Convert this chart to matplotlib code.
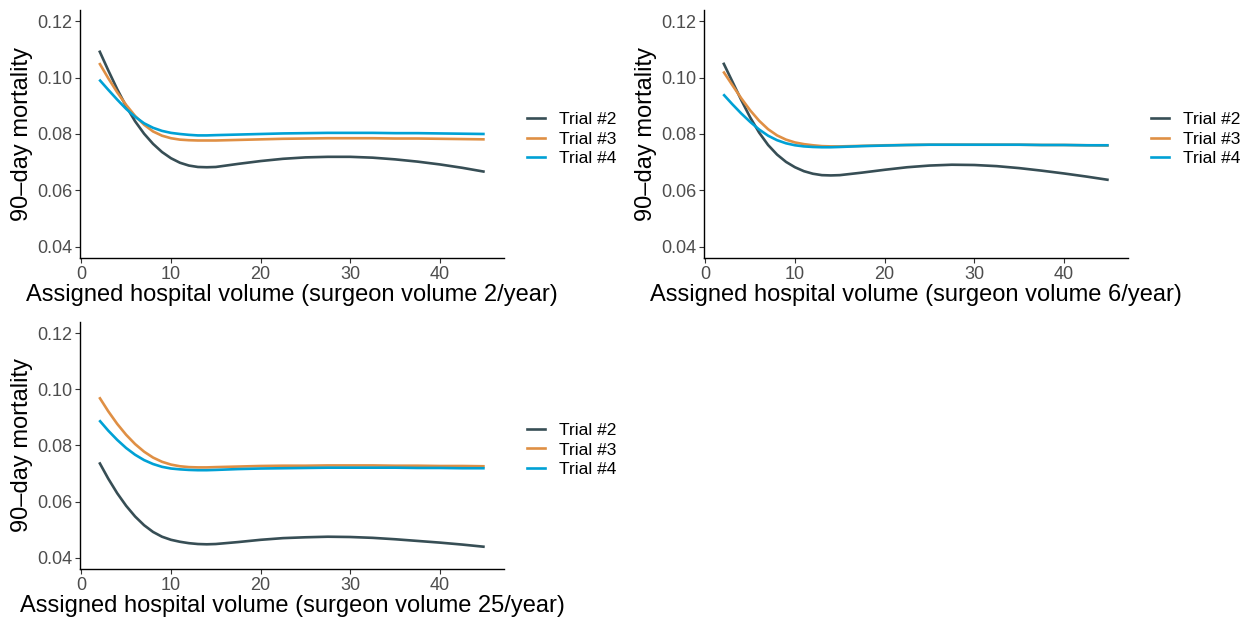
import matplotlib
matplotlib.use("Agg")
import matplotlib.pyplot as plt
from matplotlib.lines import Line2D

plt.rcParams['font.family'] = ['Liberation Sans', 'DejaVu Sans']

# ---- data ----
x_vol = [2, 3, 4, 5, 6, 7, 8, 9, 10, 11, 12, 13, 14, 15,
         17.5, 20, 22.5, 25, 27.5, 30, 32.5, 35, 37.5, 40, 42.5, 45]

series_names = ["Trial #2", "Trial #3", "Trial #4"]
surgeon_volumes = [2, 6, 25]

# surgeon volume 2/year
sv2_trial2 = [0.1096, 0.1026, 0.0959, 0.0898, 0.0845, 0.0801, 0.0765, 0.0736, 0.0714, 0.0698,
              0.0688, 0.0683, 0.0682, 0.0683, 0.0694, 0.0704, 0.0712, 0.0717, 0.0719, 0.0719,
              0.0716, 0.0710, 0.0702, 0.0692, 0.0680, 0.0666]
sv2_trial3 = [0.1052, 0.0998, 0.0948, 0.0903, 0.0864, 0.0833, 0.0809, 0.0794, 0.0785, 0.0780,
              0.0778, 0.0777, 0.0777, 0.0777, 0.0779, 0.0781, 0.0783, 0.0784, 0.0785, 0.0785,
              0.0785, 0.0784, 0.0784, 0.0783, 0.0782, 0.0781]
sv2_trial4 = [0.0993, 0.0957, 0.0922, 0.0889, 0.0861, 0.0838, 0.0822, 0.0811, 0.0804, 0.0800,
              0.0797, 0.0795, 0.0795, 0.0796, 0.0798, 0.0800, 0.0802, 0.0803, 0.0804, 0.0804,
              0.0804, 0.0803, 0.0803, 0.0802, 0.0801, 0.0800]

# surgeon volume 6/year
sv6_trial2 = [0.1053, 0.0987, 0.0921, 0.0859, 0.0805, 0.0761, 0.0727, 0.0701, 0.0682, 0.0668,
              0.0659, 0.0654, 0.0653, 0.0654, 0.0663, 0.0673, 0.0682, 0.0688, 0.0691, 0.0690,
              0.0686, 0.0679, 0.0670, 0.0660, 0.0649, 0.0637]
sv6_trial3 = [0.1022, 0.0974, 0.0927, 0.0884, 0.0847, 0.0817, 0.0795, 0.0780, 0.0770, 0.0764,
              0.0760, 0.0757, 0.0756, 0.0756, 0.0758, 0.0760, 0.0761, 0.0762, 0.0762, 0.0762,
              0.0762, 0.0762, 0.0761, 0.0761, 0.0760, 0.0759]
sv6_trial4 = [0.0941, 0.0906, 0.0873, 0.0843, 0.0816, 0.0794, 0.0778, 0.0767, 0.0760, 0.0756,
              0.0754, 0.0753, 0.0753, 0.0754, 0.0757, 0.0759, 0.0761, 0.0762, 0.0762, 0.0762,
              0.0762, 0.0762, 0.0761, 0.0761, 0.0760, 0.0760]

# surgeon volume 25/year
sv25_trial2 = [0.0740, 0.0682, 0.0630, 0.0585, 0.0547, 0.0516, 0.0492, 0.0475, 0.0464, 0.0457,
               0.0452, 0.0449, 0.0448, 0.0449, 0.0456, 0.0464, 0.0470, 0.0473, 0.0475, 0.0474,
               0.0471, 0.0466, 0.0460, 0.0454, 0.0447, 0.0439]
sv25_trial3 = [0.0972, 0.0922, 0.0877, 0.0838, 0.0805, 0.0778, 0.0757, 0.0742, 0.0732, 0.0726,
               0.0723, 0.0722, 0.0722, 0.0723, 0.0725, 0.0727, 0.0728, 0.0728, 0.0729, 0.0729,
               0.0729, 0.0728, 0.0728, 0.0727, 0.0727, 0.0726]
sv25_trial4 = [0.0890, 0.0853, 0.0820, 0.0791, 0.0767, 0.0748, 0.0734, 0.0724, 0.0718, 0.0715,
               0.0713, 0.0712, 0.0712, 0.0713, 0.0716, 0.0718, 0.0719, 0.0720, 0.0721, 0.0721,
               0.0721, 0.0721, 0.0720, 0.0720, 0.0719, 0.0719]

panels = [
    [sv2_trial2, sv2_trial3, sv2_trial4],
    [sv6_trial2, sv6_trial3, sv6_trial4],
    [sv25_trial2, sv25_trial3, sv25_trial4],
]

y_ticks = [0.04, 0.06, 0.08, 0.10, 0.12]
y_tick_labels = ["0.04", "0.06", "0.08", "0.10", "0.12"]
x_ticks = [0, 10, 20, 30, 40]

colors = ["#374E55", "#DF8F44", "#00A1D5"]

W, H = 1249, 619
fig = plt.figure(figsize=(W / 100, H / 100), dpi=100)

# axes boxes in pixels: (left, top, right, bottom)
boxes = [(80, 10, 504, 258), (704, 10, 1128, 258), (80, 322, 504, 569)]
legend_pos = [(527, 139), (1151, 139), (527, 450)]

for i, (vals, box) in enumerate(zip(panels, boxes)):
    l, t, r, b = box
    ax = fig.add_axes([l / W, 1 - b / H, (r - l) / W, (b - t) / H])
    for name, v, c in zip(series_names, vals, colors):
        ax.plot(x_vol, v, color=c, lw=1.9, label=name, solid_capstyle='butt')
    ax.set_xlim(-0.15, 47.15)
    ax.set_ylim(0.036, 0.124)
    ax.set_xticks(x_ticks)
    ax.set_yticks(y_ticks)
    ax.set_yticklabels(y_tick_labels)
    for s in ["top", "right"]:
        ax.spines[s].set_visible(False)
    for s in ["left", "bottom"]:
        ax.spines[s].set_linewidth(1.0)
        ax.spines[s].set_color("black")
    ax.tick_params(axis="both", direction="out", length=3.5, width=0.8,
                   color="#333333", labelsize=13, labelcolor="#4D4D4D", pad=2)
    ax.set_xlabel(f"Assigned hospital volume (surgeon volume {surgeon_volumes[i]}/year)",
                  fontsize=17, color="black", labelpad=1)
    ax.set_ylabel("90\u2013day mortality", fontsize=17, color="black", labelpad=3)
    lx, ly = legend_pos[i]
    handles = [Line2D([0], [0], color=c, lw=1.9) for c in colors]
    fig.legend(handles, series_names, loc="center left",
               bbox_to_anchor=(lx / W, 1 - ly / H), frameon=False,
               fontsize=12.5, handlelength=1.05, handletextpad=0.8,
               labelspacing=0.25, borderaxespad=0, borderpad=0)

fig.savefig("out.png", dpi=100, facecolor="white")
